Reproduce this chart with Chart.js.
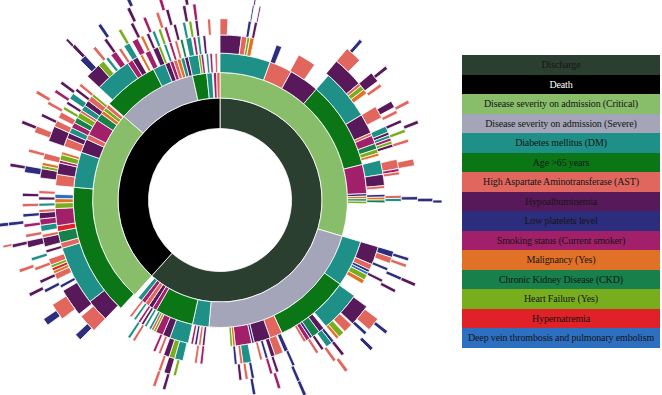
<!DOCTYPE html>
<html>
<head>
<meta charset="utf-8">
<script src="https://cdn.jsdelivr.net/npm/chart.js@4.4.0/dist/chart.umd.min.js"></script>
<style>
html, body { margin: 0; padding: 0; background: #fff; overflow: hidden; width: 662px; height: 395px; }
#wrap { position: absolute; left: -10px; top: -30px; width: 460px; height: 460px; }
#legend { position: absolute; left: 462px; top: 55px; width: 198px; font-family: "Liberation Serif", "DejaVu Serif", serif; font-size: 10px; letter-spacing: -0.15px; }
#legend div { height: 19.5px; line-height: 19.5px; text-align: center; color: #161616; white-space: nowrap; }
</style>
</head>
<body>
<div id="wrap"><canvas id="chart" width="460" height="460"></canvas></div>
<div id="legend"></div>
<script>
// categories (legend order)
var LABELS = ["Discharge", "Death", "Disease severity on admission (Critical)", "Disease severity on admission (Severe)",
  "Diabetes mellitus (DM)", "Age >65 years", "High Aspartate Aminotransferase (AST)", "Hypoalbuminemia",
  "Low platelets level", "Smoking status (Current smoker)", "Malignancy (Yes)", "Chronic Kidney Disease (CKD)",
  "Heart Failure (Yes)", "Hypernatremia", "Deep vein thrombosis and pulmonary embolism"];
var COLORS = ["#2b3f31", "#000000", "#88bd6a", "#a4a5b8", "#1f9087", "#0a7616", "#e0665e", "#58195a",
  "#2c2d7c", "#a21f69", "#e07126", "#17804b", "#78ad1d", "#e02127", "#2d6fc1"];

// each ring: [fromDeg, toDeg, category], clockwise from top; inner ring first
var ring1 = [[0,222,0],[222,360,1]];
var ring2 = [[0,106.5,2],[106.5,185,3],[185,192.5,4],[192.5,210,5],[210,212,9],[212,214,7],[214,216,6],[216,218,9],[218,220,4],
  [222,311,2],[311,347.5,3],[347.5,354,5],[354,356.5,4],[357,358.5,9],[358.5,360,6]];
var ring3 = [[0,20,4],[20,29,6],[29,41,7],[41,76,5],[76,87.5,9],[87.5,88.5,8],[88.5,89.5,10],[89.5,90.5,11],[90.5,91.5,12],
  [106.5,125,4],[125,155,5],[155,160,6],[160,166.5,7],[166.5,167.5,8],[167.5,174,9],[174,175,10],[175,176,12],
  [186,187,7],[187.5,188.5,6],[189,190,8],[190.5,191.5,9],
  [192.5,200,4],[200,203,7],[203,206,9],[206,207,12],[207,208,6],[208,209,4],
  [210,211,4],[211.5,212.5,7],[213,214,9],[215,216,4],[217,218,6],
  [222.5,275,5],[275,289,4],[289,294.5,7],[294.5,296.5,6],[296.5,303,9],[303,306,11],[306,307.5,10],[307.5,309,12],[309,310.5,6],
  [311,333,5],[333,338,4],[338,340,7],[340,341.5,9],[341.5,343,6],[343,344.5,10],[344.5,346,4],[346,347.5,7],
  [347.5,351.5,4],[351.5,352.5,12],[352.5,353.5,9],[354.5,355.5,4],[356,357,9],[358,359,6]];
var ring4 = [[0,7.5,7],[7.5,9.5,6],[9.5,10.5,12],[10.5,12,10],[20,22,8],[28.5,35,6],
  [41,59,4],[59,66,7],[66,67,6],[67,70,9],[70,72,11],[72,73.5,12],[73.5,74.5,10],
  [76,81,4],[81,85,7],[85,86,6],[88,89,8],[89,90,10],[90,91,11],
  [106.5,113,7],[113,115,6],[115,116,8],[116,117,14],[117,119,12],[119,120.5,10],
  [125.5,140,4],[141,143,7],[143,146,11],[146,147,8],[147,148.5,9],[148.5,149.5,6],
  [155.5,157,8],[157.5,160.5,6],[160.5,162,7],[163,164,8],[165,166,6],[169,172,4],[172,173,6],[174,175,8],
  [186,187,9],[188,189,6],[193,196,4],[196,198,12],[198,200,7],[201,202,6],[203,204,9],[211,212,6],[213,214,4],
  [224,232,7],[232,253,4],[253,255,6],[255,259,11],[259,261,13],[261,267,9],[267,269,12],[269,270.5,10],[270.5,272,14],
  [275,279,6],[279,283,7],[283,284,9],[284,286,12],[286,287,10],
  [289,292,6],[292,294,7],[294,296,4],[296,298,9],[298,300,11],[300,302,12],[302,303,6],
  [303,305,4],[305,307,7],[307,309,6],[309,310,12],
  [313,326,4],[326,328,9],[328,330,7],[331,332,10],[333,335,9],[336,338,7],[338,339,12],[340,341,4],[342,343,9],[344,345,6],[346,347,11],
  [348,350,4],[350.5,351.5,9],[352,353,4],[354,355,7]];
var ring5 = [[0,2.5,6],[9,10,8],[11,12,7],
  [40,50,7],[50,51,6],[51,52.5,12],[52.5,54,10],[59,63,6],[66,68,4],[68,69,7],[69,70,4],[70,71,9],[71,72,12],[72,73,7],
  [77,80,6],[80,81,9],[81,82,6],[88.5,89.5,6],[89.5,90.5,4],
  [106.5,108.5,8],[108.5,110.5,6],[112,113,8],[116,117,7],
  [126,133,7],[133.5,136.5,6],[137,139,12],[139,140,10],[141,142,8],[142,144,4],[145,146,7],[147,148,6],
  [155.5,156.5,8],[161,162,7],[163,164,9],[169,170,8],[171,172,6],[173,174,7],
  [194,195,12],[196,198,7],[199,200,6],
  [224,230,6],[231,240,7],[241,242,8],[244,246,6],[246,247,10],[247,248,13],[248,249,12],[249,251,6],[253,254,7],[255,258,7],[258,259,6],
  [260,262,4],[262,264,9],[264,266,7],[266,267,6],[268,269,4],[270,271,7],[272,273,6],
  [277,280,7],[280,281,12],[281,282,10],[283,285,6],[289,294,7],[294,296,6],[297,299,6],[300,301,12],[302,303,7],[304,306,4],[307,308,7],[309,310,6],
  [313,318,7],[318,320,12],[321,322,4],[323,325,9],[326,327,6],[328,330,4],[331,333,9],[334,335,10],[336,337,7],[338,339,4],[340,341,12],
  [342,343,9],[345,346,7],[348,349,4],[350,351,12],[352,353,7],[356,357,6]];
var ring6 = [[9.5,10,8],[11.5,12,7],[40,45,6],[50,53,7],[54,55,6],[60,62,7],[63,64,6],[66,67,7],[69,70,12],[72,73,6],[78,80,6],[89,90,8],
  [107,108,8],[109,110,6],[113,114,8],[117,118,7],
  [127,131,6],[132,133,8],[141,142,7],[144,145,6],[156,157,8],[162,163,9],[169.5,170.5,8],
  [196,197,7],[199,200,6],
  [225,227,8],[233,238,6],[242,243,8],[245,246,7],[249,250,6],[252,253,4],[256,258,7],[259,260,6],[262,263,9],[265,266,8],[268,269,6],[271,272,7],
  [278,280,8],[284,285,6],[290,292,6],[295,296,7],[299,300,6],[303,304,9],[306,307,7],
  [315,317,8],[320,321,6],[324,325,7],[329,330,12],[333,334,7],[337,338,9],[341,342,6],[344,345,7],[349,350,7],[352,353,9]];
var ring7 = [[9.7,10.2,7],[41,42,8],[51,52,7],[62,63,6],[68,69,7],[89.5,90.5,8],[113,114,7],[128,129,8],[134,135,8],[143,144,6],
  [156,157,8],[170,171,7],[234,236,8],[243,244,7],[250,251,6],[257,258,7],[263,264,8],[279,280,7],[291,292,7],[300,301,6],
  [316,317,7],[325,326,8],[334,335,7],[343,344,9],[350,351,7]];
var ring8 = [[90,90.8,8],[257.5,258.2,6],[263,264,8],[316,316.7,7],[335,336,8]];

var RINGS = [ring1, ring2, ring3, ring4, ring5, ring6, ring7, ring8];
var THICK = [30, 25, 19, 18, 16, 16, 15, 9];

function buildRing(segs, weight) {
  var data = [], bg = [], bw = [];
  var pos = 0;
  segs.forEach(function(s) {
    var from = Math.max(s[0], pos);
    if (from > pos) {
      data.push(from - pos); bg.push('rgba(0,0,0,0)'); bw.push(0);
    }
    data.push(s[1] - from); bg.push(COLORS[s[2]]); bw.push(0.8);
    pos = s[1];
  });
  if (pos < 360) { data.push(360 - pos); bg.push('rgba(0,0,0,0)'); bw.push(0); }
  return { data: data, backgroundColor: bg, borderWidth: bw, borderColor: '#ffffff', weight: weight };
}

var datasets = [];
for (var i = RINGS.length - 1; i >= 0; i--) {
  datasets.push(buildRing(RINGS[i], THICK[i]));
}

var context = document.getElementById('chart').getContext('2d');
var chart = new Chart(context, {
  type: 'doughnut',
  data: { datasets: datasets },
  options: {
    responsive: false,
    animation: false,
    events: [],
    cutout: 74,
    radius: 222,
    layout: { padding: 0 },
    plugins: { legend: { display: false }, tooltip: { enabled: false } }
  }
});

// legend table
var legend = document.getElementById('legend');
LABELS.forEach(function(l, i) {
  var row = document.createElement('div');
  row.textContent = l;
  row.style.background = COLORS[i];
  if (i == 1) row.style.color = '#ffffff';
  legend.appendChild(row);
});
</script>
</body>
</html>
